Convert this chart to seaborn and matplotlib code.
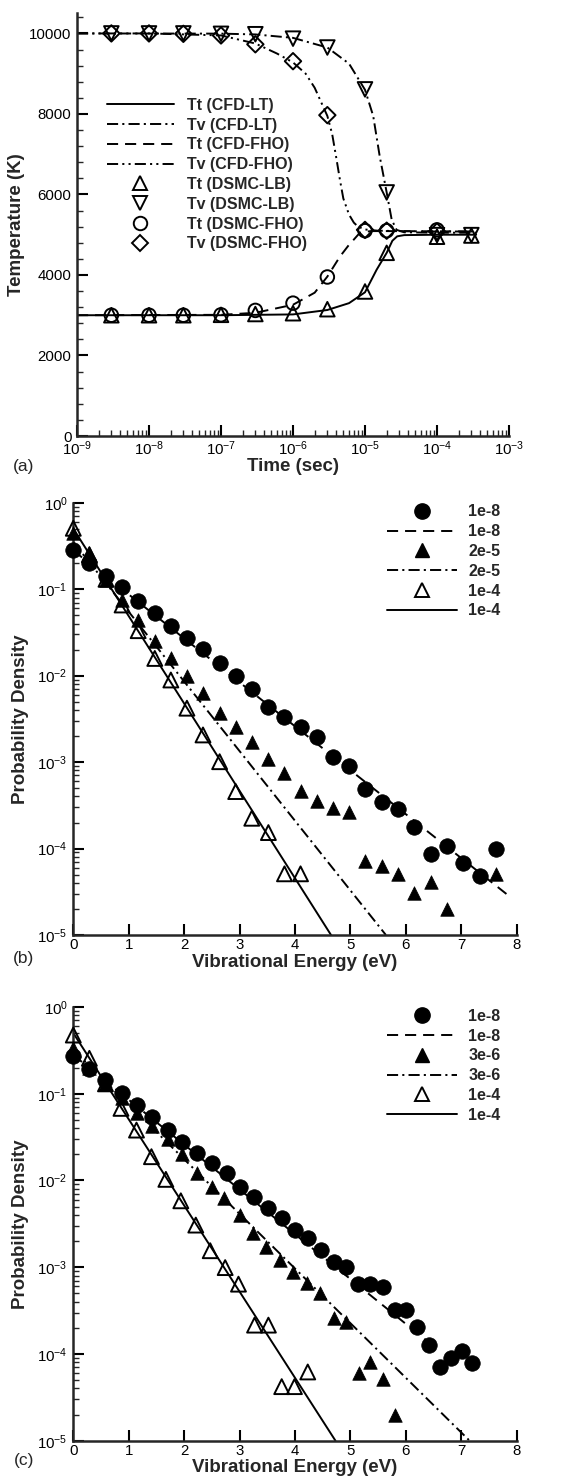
import numpy as np
import pandas as pd
import matplotlib
matplotlib.use("Agg")
import matplotlib.pyplot as plt
from matplotlib.lines import Line2D
from matplotlib.ticker import LogLocator, MultipleLocator, NullFormatter, FixedLocator
import seaborn as sns

# ---------------- Panel (a) data ----------------
t_tt_lt = [1e-9, 1e-7, 1e-6, 3e-6, 6e-6, 1e-5, 1.45e-5, 2e-5, 2.4e-5, 2.8e-5, 3.5e-5, 1e-4, 3.5e-4]
tt_lt = [3000, 3000, 3020, 3130, 3300, 3570, 4130, 4550, 4850, 4960, 4990, 5000, 5000]

t_tv_lt = [1e-9, 1e-7, 3e-7, 1e-6, 3e-6, 6e-6, 1e-5, 1.3e-5, 1.6e-5, 2e-5, 2.35e-5, 2.75e-5, 3.5e-5, 1e-4, 3.5e-4]
tv_lt = [10000, 9995, 9975, 9890, 9650, 9250, 8600, 7950, 6950, 6050, 5370, 5120, 5060, 5050, 5050]

t_tt_fho = [1e-9, 1e-7, 3e-7, 1e-6, 2e-6, 3e-6, 4.5e-6, 6e-6, 7e-6, 8.5e-6, 1.2e-5, 2e-5, 1e-4, 3.5e-4]
tt_fho = [3000, 3010, 3060, 3260, 3560, 3960, 4460, 4750, 4880, 5050, 5090, 5090, 5085, 5080]

t_tv_fho = [1e-9, 1e-8, 1e-7, 3e-7, 6e-7, 1e-6, 1.5e-6, 2e-6, 3e-6, 3.5e-6, 4e-6, 4.5e-6, 5e-6,
            6e-6, 7e-6, 8e-6, 1e-5, 1.5e-5, 3e-5, 1e-4, 3.5e-4]
tv_fho = [10000, 10000, 9950, 9750, 9500, 9280, 9000, 8650, 7950, 7500, 6900, 6350, 5900,
          5500, 5300, 5200, 5130, 5100, 5090, 5080, 5080]

t_dsmc_lb = [3e-9, 1e-8, 3e-8, 1e-7, 3e-7, 1e-6, 3e-6, 1e-5, 2e-5, 1e-4, 3e-4]
tt_dsmc_lb = [3000, 3000, 3000, 3010, 3030, 3050, 3150, 3590, 4550, 4950, 4980]
tv_dsmc_lb = [10000, 10000, 10000, 9990, 9980, 9870, 9650, 8610, 6050, 4990, 4990]

t_dsmc_fho = [3e-9, 1e-8, 3e-8, 1e-7, 3e-7, 1e-6, 3e-6, 1e-5, 2e-5, 1e-4]
tt_dsmc_fho = [3000, 3000, 3000, 3010, 3120, 3300, 3950, 5100, 5100, 5120]
tv_dsmc_fho = [10000, 10000, 9990, 9950, 9730, 9310, 7970, 5120, 5100, 5080]

a_xticks = [1e-9, 1e-8, 1e-7, 1e-6, 1e-5, 1e-4, 1e-3]
a_yticks = [0, 2000, 4000, 6000, 8000, 10000]

# ---------------- Panel (b) data ----------------
e_b = [0.00, 0.29, 0.59, 0.88, 1.17, 1.47, 1.76, 2.05, 2.34, 2.64, 2.93, 3.22, 3.52, 3.81,
       4.10, 4.40, 4.69, 4.98, 5.27, 5.57, 5.86, 6.15, 6.45, 6.74, 7.03, 7.33, 7.62]
b_circ = [0.284, 0.199, 0.142, 0.105, 0.0736, 0.0526, 0.0376, 0.0270, 0.0202, 0.0139, 0.0098,
          0.00697, 0.00439, 0.00331, 0.00253, 0.00197, 0.00116, 0.000903, 0.000486, 0.000349,
          0.000285, 0.000177, 8.7e-5, 1.07e-4, 6.8e-5, 4.84e-5, 9.8e-5]
e_b_tri = [0.00, 0.29, 0.59, 0.88, 1.17, 1.47, 1.76, 2.05, 2.34, 2.64, 2.93, 3.22, 3.52, 3.81,
           4.10, 4.40, 4.69, 4.98, 5.27, 5.57, 5.86, 6.15, 6.45, 6.74, 7.62]
b_tri = [0.45, 0.26, 0.128, 0.075, 0.044, 0.0254, 0.0159, 0.0099, 0.00637, 0.00373, 0.00253,
         0.0017, 0.00108, 0.000744, 0.000457, 0.000356, 0.000298, 0.000268, 7.1e-5, 6.2e-5,
         5.1e-5, 3.05e-5, 4.05e-5, 2.0e-5, 5.1e-5]
e_b_open = [0.00, 0.29, 0.59, 0.88, 1.17, 1.47, 1.76, 2.05, 2.34, 2.64, 2.93, 3.22, 3.52, 3.81, 4.10]
b_open = [0.506, 0.25, 0.13, 0.0656, 0.0331, 0.0158, 0.0089, 0.0042, 0.00206, 0.00101,
          0.000456, 0.000224, 0.000153, 5.1e-5, 5.1e-5]
b_dash_x, b_dash_y = [0.0, 7.9], [0.28, 2.7e-5]
b_dd_x, b_dd_y = [0.0, 5.64], [0.35, 1e-5]
b_sol_x, b_sol_y = [0.0, 4.65], [0.5, 1e-5]
b_labels = ["1e-8", "1e-8", "2e-5", "2e-5", "1e-4", "1e-4"]

# ---------------- Panel (c) data ----------------
e_c = [0, 0.29, 0.58, 0.88, 1.15, 1.42, 1.70, 1.97, 2.24, 2.50, 2.78, 3.01, 3.26, 3.52, 3.76,
       4.00, 4.23, 4.47, 4.70, 4.92, 5.14, 5.36, 5.58, 5.81, 6.01, 6.21, 6.41, 6.62, 6.82, 7.02, 7.20]
c_circ = [0.272, 0.191, 0.144, 0.101, 0.074, 0.0543, 0.0381, 0.028, 0.0209, 0.0157, 0.0121,
          0.00847, 0.00638, 0.00477, 0.00365, 0.00268, 0.00215, 0.0016, 0.00115, 0.00101,
          0.000638, 0.000648, 0.000585, 0.00032, 0.000325, 0.000202, 0.000126, 7.0e-5, 8.9e-5,
          1.09e-4, 7.9e-5]
e_c_tri = [0, 0.29, 0.58, 0.88, 1.15, 1.42, 1.70, 1.97, 2.24, 2.50, 2.72, 3.0, 3.24, 3.48, 3.73,
           3.97, 4.21, 4.45, 4.70, 4.92, 5.15, 5.36, 5.58, 5.81]
c_tri = [0.334, 0.2, 0.129, 0.09, 0.06, 0.0424, 0.0298, 0.0202, 0.0123, 0.00847, 0.0062,
         0.00399, 0.0025, 0.00172, 0.00121, 0.000885, 0.00065, 0.000499, 0.000257, 0.000234,
         6.05e-5, 8.1e-5, 5.1e-5, 2.0e-5]
e_c_open = [0, 0.29, 0.58, 0.86, 1.14, 1.41, 1.67, 1.94, 2.21, 2.47, 2.74, 2.98, 3.27, 3.52,
            3.76, 3.99, 4.23]
c_open = [0.475, 0.256, 0.13, 0.0678, 0.0381, 0.0188, 0.0103, 0.00583, 0.00306, 0.00155,
          0.00099, 0.000638, 0.000215, 0.000215, 4.2e-5, 4.2e-5, 6.2e-5]
c_dash_x, c_dash_y = [0.0, 6.45], [0.28, 1.3e-4]
c_dd_x, c_dd_y = [0.0, 7.15], [0.32, 1e-5]
c_sol_x, c_sol_y = [0.0, 4.73], [0.5, 1e-5]
c_labels = ["1e-8", "1e-8", "3e-6", "3e-6", "1e-4", "1e-4"]

pd_yticks = [1e-5, 1e-4, 1e-3, 1e-2, 1e-1, 1e0]
pd_xticks = [0, 1, 2, 3, 4, 5, 6, 7, 8]

a_labels = ["Tt (CFD-LT)", "Tv (CFD-LT)", "Tt (CFD-FHO)", "Tv (CFD-FHO)",
            "Tt (DSMC-LB)", "Tv (DSMC-LB)", "Tt (DSMC-FHO)", "Tv (DSMC-FHO)"]

# ---------------- Style ----------------
sns.set_style("ticks")
plt.rcParams['font.family'] = ['Liberation Sans', 'DejaVu Sans']
plt.rcParams['mathtext.default'] = 'regular'
plt.rcParams['lines.scale_dashes'] = False
plt.rcParams['axes.linewidth'] = 1.8

SOLID = '-'
DASH = (0, (8, 5))
DASHDOT = (0, (8, 3, 1.5, 3))
DASHDOTDOT = (0, (8, 3, 1.5, 3, 1.5, 3))
LW = 1.4

W, H = 561, 1483
fig = plt.figure(figsize=(W / 100, H / 100), dpi=100)


def px_axes(l, r, t, b):
    return fig.add_axes([l / W, 1 - b / H, (r - l) / W, (b - t) / H])


def line(ax, x, y, ls):
    sns.lineplot(x=x, y=y, ax=ax, color='k', lw=LW, linestyle=ls,
                 estimator=None, sort=False, legend=False)


def pts(ax, x, y, marker, s, filled, lw=1.4):
    sns.scatterplot(x=x, y=y, ax=ax, marker=marker, s=s, color='k', legend=False)
    coll = ax.collections[-1]
    coll.set_edgecolor('k')
    coll.set_facecolor('k' if filled else 'none')
    coll.set_linewidth(lw if not filled else 0.5)
    coll.set_zorder(3)
    coll.set_clip_on(False)


def style_axes(ax):
    sns.despine(ax=ax)
    ax.tick_params(which='major', direction='in', length=8, width=1.5,
                   labelsize=10.8, pad=4, colors='k')
    ax.tick_params(which='minor', direction='in', length=4, width=1.0)
    ax.tick_params(axis='x', which='major', pad=2.5)
    ax.grid(False)


# ---------------- Panel (a) ----------------
ax = px_axes(77, 509, 13.3, 436)
ax.set_xscale('log')
line(ax, t_tt_lt, tt_lt, SOLID)
line(ax, t_tv_lt, tv_lt, DASHDOT)
line(ax, t_tt_fho, tt_fho, DASH)
line(ax, t_tv_fho, tv_fho, DASHDOTDOT)
pts(ax, t_dsmc_lb, tt_dsmc_lb, '^', 110, False)
pts(ax, t_dsmc_lb, tv_dsmc_lb, 'v', 110, False)
pts(ax, t_dsmc_fho, tt_dsmc_fho, 'o', 95, False)
pts(ax, t_dsmc_fho, tv_dsmc_fho, 'D', 70, False)
ax.set_xlim(1e-9, 1e-3)
ax.set_ylim(0, 10500)
ax.xaxis.set_major_locator(FixedLocator(a_xticks))
ax.xaxis.set_minor_locator(FixedLocator(
    [m * d for d in a_xticks[:-1] for m in range(2, 10)]))
ax.xaxis.set_minor_formatter(NullFormatter())
ax.yaxis.set_major_locator(FixedLocator(a_yticks))
ax.yaxis.set_minor_locator(MultipleLocator(400))
style_axes(ax)
ax.set_xlabel("Time (sec)", fontsize=13.5, fontweight='bold')
ax.set_ylabel("Temperature (K)", fontsize=13.5, fontweight='bold')
ax.xaxis.set_label_coords(0.5, -0.052)
ax.yaxis.set_label_coords(-0.12, 0.5)
hs = [Line2D([], [], color='k', lw=LW, ls=SOLID),
      Line2D([], [], color='k', lw=LW, ls=DASHDOT),
      Line2D([], [], color='k', lw=LW, ls=DASH),
      Line2D([], [], color='k', lw=LW, ls=DASHDOTDOT),
      Line2D([], [], color='k', ls='', marker='^', ms=10.5, mfc='none', mew=1.4),
      Line2D([], [], color='k', ls='', marker='v', ms=10.5, mfc='none', mew=1.4),
      Line2D([], [], color='k', ls='', marker='o', ms=9.7, mfc='none', mew=1.4),
      Line2D([], [], color='k', ls='', marker='D', ms=8.4, mfc='none', mew=1.4)]
ax.legend(hs, a_labels, loc='upper left', bbox_to_anchor=(0.069, 0.8), frameon=False,
          prop={'weight': 'bold', 'size': 11.5}, handlelength=4.2, handletextpad=0.8,
          labelspacing=0.3, borderpad=0, borderaxespad=0)


# ---------------- Panels (b), (c) ----------------
def dist_panel(top, bot, e_circ, circ, e_tri, tri, e_open, opn, dash, dd, sol, labels):
    ax = px_axes(73.3, 516.7, top, bot)
    ax.set_yscale('log')
    line(ax, dash[0], dash[1], DASH)
    line(ax, dd[0], dd[1], DASHDOT)
    line(ax, sol[0], sol[1], SOLID)
    pts(ax, e_circ, circ, 'o', 125, True)
    pts(ax, e_tri, tri, '^', 95, True)
    pts(ax, e_open, opn, '^', 115, False)
    ax.set_xlim(0, 8)
    ax.set_ylim(1e-5, 1)
    ax.xaxis.set_major_locator(FixedLocator(pd_xticks))
    ax.yaxis.set_major_locator(FixedLocator(pd_yticks))
    ax.yaxis.set_minor_locator(FixedLocator(
        [m * d for d in pd_yticks[:-1] for m in range(2, 10)]))
    ax.yaxis.set_minor_formatter(NullFormatter())
    style_axes(ax)
    ax.set_xlabel("Vibrational Energy (eV)", fontsize=13.5, fontweight='bold')
    ax.set_ylabel("Probability Density", fontsize=13.5, fontweight='bold')
    ax.xaxis.set_label_coords(0.5, -0.043)
    ax.yaxis.set_label_coords(-0.1, 0.5)
    hs = [Line2D([], [], color='k', ls='', marker='o', ms=11, mfc='k'),
          Line2D([], [], color='k', lw=LW, ls=DASH),
          Line2D([], [], color='k', ls='', marker='^', ms=9.5, mfc='k'),
          Line2D([], [], color='k', lw=LW, ls=DASHDOT),
          Line2D([], [], color='k', ls='', marker='^', ms=10.5, mfc='none', mew=1.4),
          Line2D([], [], color='k', lw=LW, ls=SOLID)]
    ax.legend(hs, labels, loc='upper left', bbox_to_anchor=(0.707, 0.996), frameon=False,
              prop={'weight': 'bold', 'size': 11.5}, handlelength=4.4, handletextpad=0.7,
              labelspacing=0.3, borderpad=0, borderaxespad=0)
    return ax


dist_panel(502.7, 935, e_b, b_circ, e_b_tri, b_tri, e_b_open, b_open,
           (b_dash_x, b_dash_y), (b_dd_x, b_dd_y), (b_sol_x, b_sol_y), b_labels)
dist_panel(1007, 1440.7, e_c, c_circ, e_c_tri, c_tri, e_c_open, c_open,
           (c_dash_x, c_dash_y), (c_dd_x, c_dd_y), (c_sol_x, c_sol_y), c_labels)

for lab, y in [("(a)", 466), ("(b)", 959), ("(c)", 1460)]:
    fig.text(24 / W, 1 - y / H, lab, fontsize=12.5, ha='center', va='center')

fig.savefig("out.png", dpi=100)
